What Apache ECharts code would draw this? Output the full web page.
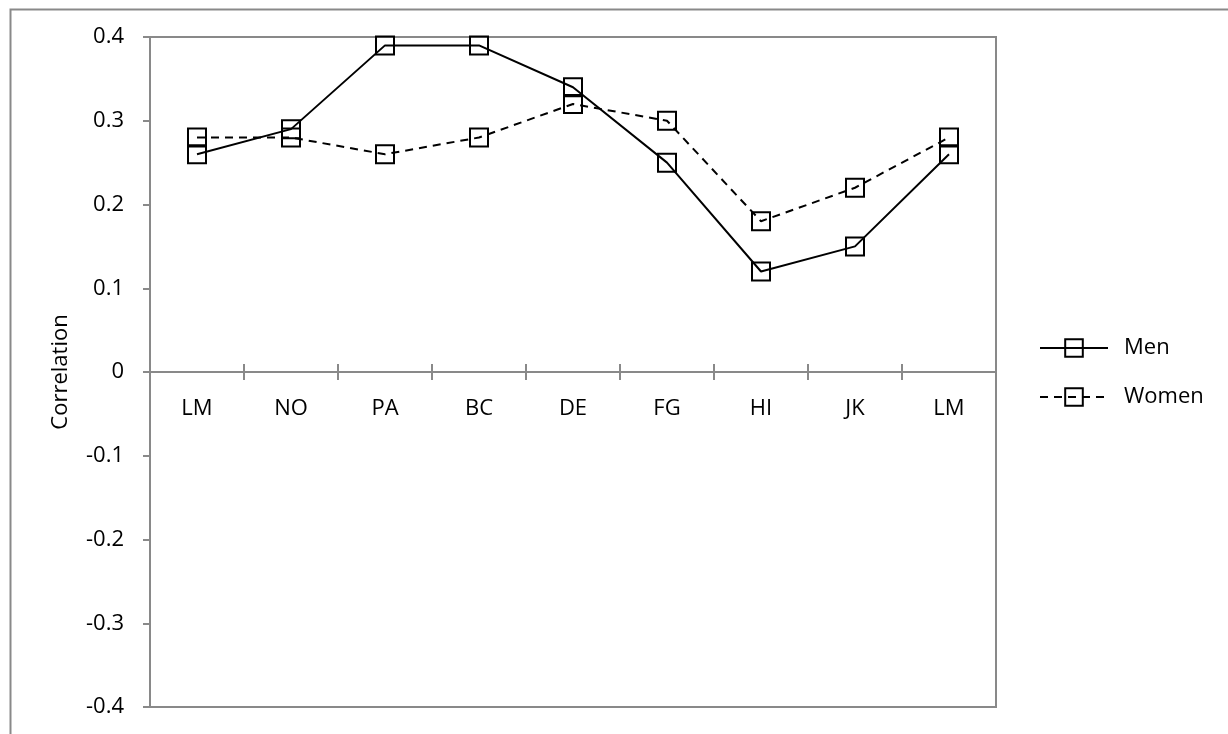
<!DOCTYPE html>
<html>
<head>
<meta charset="utf-8">
<script src="https://cdn.jsdelivr.net/npm/echarts@6/dist/echarts.min.js"></script>
<style>
html,body{margin:0;padding:0;background:#fff;}
#chart{width:1228px;height:734px;}
</style>
</head>
<body>
<div id="chart"></div>
<script>
var categories = ['LM', 'NO', 'PA', 'BC', 'DE', 'FG', 'HI', 'JK', 'LM'];
var menValues = [0.26, 0.29, 0.39, 0.39, 0.34, 0.25, 0.12, 0.15, 0.26];
var womenValues = [0.28, 0.28, 0.26, 0.28, 0.32, 0.30, 0.18, 0.22, 0.28];
var seriesNames = ['Men', 'Women'];
var yAxisName = 'Correlation';

var FONT = '"Open Sans", "Liberation Sans", sans-serif';
var GRAY = '#898989';

var chart = echarts.init(document.getElementById('chart'), null, {renderer: 'canvas'});
chart.setOption({
  animation: false,
  backgroundColor: '#fff',
  graphic: [{
    type: 'rect',
    left: 8, top: 7,
    shape: {width: 1240, height: 760},
    style: {fill: 'none', stroke: GRAY, lineWidth: 2},
    silent: true
  }],
  grid: [{
    left: 150, top: 37, width: 846, height: 670,
    outerBoundsMode: 'none',
    containLabel: false,
    show: true, borderColor: GRAY, borderWidth: 2, backgroundColor: 'transparent'
  }, {
    // upper half of the plot: its bottom edge sits on the zero line, used for category labels
    left: 150, top: 37, width: 846, height: 335,
    outerBoundsMode: 'none',
    containLabel: false,
    show: false
  }],
  legend: {
    orient: 'vertical',
    left: 1039, top: 337,
    padding: 0,
    itemWidth: 68, itemHeight: 22, itemGap: 27,
    textStyle: {fontFamily: FONT, fontSize: 22, color: '#000', padding: [0, 0, 0, 11]},
    data: seriesNames
  },
  xAxis: [{
    type: 'category',
    gridIndex: 0,
    data: categories,
    boundaryGap: true,
    axisLine: {onZero: true, onZeroAxisIndex: 0, lineStyle: {color: GRAY, width: 2}},
    axisTick: {show: true, length: 8, lineStyle: {color: GRAY, width: 2}},
    axisLabel: {show: false},
    splitLine: {show: false}
  }, {
    type: 'category',
    gridIndex: 0,
    data: categories,
    boundaryGap: true,
    position: 'bottom',
    axisLine: {show: true, onZero: true, onZeroAxisIndex: 1, lineStyle: {color: GRAY, width: 2}},
    axisTick: {show: true, inside: true, length: 8, lineStyle: {color: GRAY, width: 2}},
    axisLabel: {show: false},
    splitLine: {show: false}
  }, {
    type: 'category',
    gridIndex: 1,
    data: categories,
    boundaryGap: true,
    position: 'bottom',
    axisLine: {show: false, onZero: false},
    axisTick: {show: false},
    axisLabel: {show: true, fontFamily: FONT, fontSize: 22, color: '#000', margin: 26},
    splitLine: {show: false}
  }],
  yAxis: [{
    type: 'value',
    gridIndex: 0,
    min: -0.4, max: 0.4, interval: 0.1,
    name: yAxisName,
    nameLocation: 'middle',
    nameGap: 78,
    nameTextStyle: {fontFamily: FONT, fontSize: 22, color: '#000'},
    axisLine: {show: true, lineStyle: {color: GRAY, width: 2}},
    axisTick: {show: true, length: 7, lineStyle: {color: GRAY, width: 2}},
    axisLabel: {fontFamily: FONT, fontSize: 22, color: '#000', margin: 26,
      formatter: function (v) { return (Math.round(v * 10) / 10).toString(); }},
    splitLine: {show: false}
  }, {
    type: 'value',
    gridIndex: 0,
    min: -0.4, max: 0.4, interval: 0.1,
    position: 'left',
    axisLine: {show: false},
    axisTick: {show: false},
    axisLabel: {show: false},
    splitLine: {show: false}
  }, {
    type: 'value',
    gridIndex: 1,
    min: 0, max: 0.4, interval: 0.1,
    axisLine: {show: false},
    axisTick: {show: false},
    axisLabel: {show: false},
    splitLine: {show: false}
  }],
  series: [{
    name: seriesNames[0],
    type: 'line',
    xAxisIndex: 0, yAxisIndex: 0,
    data: menValues,
    symbol: 'rect',
    symbolSize: 18,
    lineStyle: {color: '#000', width: 2, type: 'solid'},
    itemStyle: {color: 'rgba(255,255,255,0)', borderColor: '#000', borderWidth: 2},
    z: 3
  }, {
    name: seriesNames[1],
    type: 'line',
    xAxisIndex: 0, yAxisIndex: 0,
    data: womenValues,
    symbol: 'rect',
    symbolSize: 18,
    lineStyle: {color: '#000', width: 2, type: [8, 6]},
    itemStyle: {color: 'rgba(255,255,255,0)', borderColor: '#000', borderWidth: 2},
    z: 2
  }]
});
</script>
</body>
</html>
